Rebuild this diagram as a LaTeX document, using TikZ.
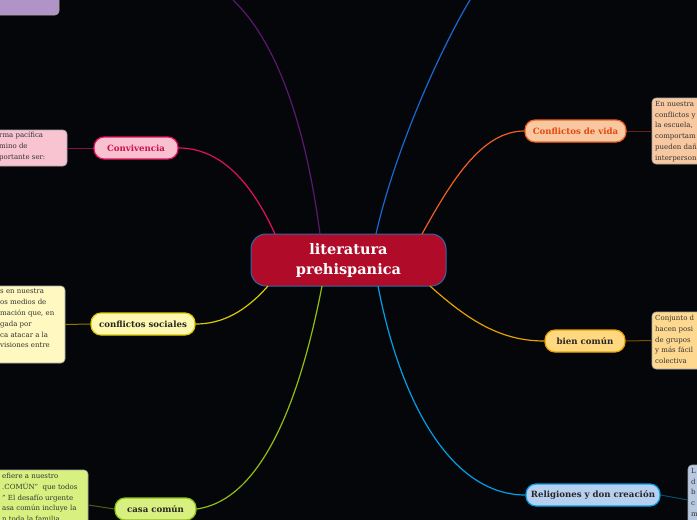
\documentclass[tikz,border=0pt]{standalone}
\usepackage{fontspec}
\setmainfont{DejaVu Serif}
\definecolor{cbg}{RGB}{5,6,10}
\definecolor{cpurple}{RGB}{90,24,110}
\definecolor{cblue}{RGB}{24,104,210}
\definecolor{cpink}{RGB}{228,16,92}
\definecolor{cyellow}{RGB}{220,200,0}
\definecolor{clime}{RGB}{144,192,16}
\definecolor{corange}{RGB}{240,96,32}
\definecolor{cgold}{RGB}{232,160,0}
\definecolor{ccyan}{RGB}{0,160,232}
\definecolor{ccentborder}{RGB}{42,106,168}
\definecolor{ccentfill}{RGB}{176,12,42}
\definecolor{fpurple}{RGB}{176,148,200}
\definecolor{fpink}{RGB}{249,192,208}
\definecolor{fpinknote}{RGB}{248,196,210}
\definecolor{tpink}{RGB}{208,16,80}
\definecolor{lpink}{RGB}{138,16,64}
\definecolor{fyellow}{RGB}{255,248,176}
\definecolor{fyellownote}{RGB}{255,248,192}
\definecolor{lyellow}{RGB}{138,122,0}
\definecolor{flime}{RGB}{216,240,128}
\definecolor{llime}{RGB}{80,96,16}
\definecolor{forange}{RGB}{248,200,160}
\definecolor{torange}{RGB}{232,72,16}
\definecolor{lorange}{RGB}{112,32,16}
\definecolor{fgold}{RGB}{255,216,128}
\definecolor{fgoldnote}{RGB}{255,216,144}
\definecolor{lgold}{RGB}{120,80,0}
\definecolor{fcyan}{RGB}{184,208,240}
\definecolor{fcyannote}{RGB}{184,200,224}
\definecolor{lcyan}{RGB}{0,80,110}
\begin{document}
\begin{tikzpicture}[x=1pt,y=-1pt,
  topic/.style={draw, line width=1.2pt, rounded corners=10pt, minimum height=22pt, inner sep=0pt, font=\bfseries\fontsize{8.6}{10}\selectfont},
  note/.style={draw=gray!70, line width=0.6pt, rounded corners=4pt},
  notetext/.style={anchor=north west, inner sep=0pt, align=left, font=\fontsize{7}{10.8}\selectfont, text=black!80},
  branch/.style={line width=1.2pt},
  leaf/.style={line width=1pt}]
\useasboundingbox (0,0) rectangle (697,520);
\fill[cbg] (0,0) rectangle (697,520);
\clip (0,0) rectangle (697,520);

% central node
\node[draw=ccentborder, line width=1pt, fill=ccentfill,
  rounded corners=15pt, minimum width=195pt, minimum height=52pt, text=white, align=center,
  font=\bfseries\fontsize{14.5}{20}\selectfont] (c) at (348.5,260) {literatura\\prehispanica};

% anchor points on central node
\coordinate (cpu) at (320,234);
\coordinate (cbl) at (376,234);
\coordinate (cpk) at (275,234);
\coordinate (cor) at (422,234);
\coordinate (cye) at (268,286);
\coordinate (cli) at (322,286);
\coordinate (cgo) at (430,286);
\coordinate (ccy) at (378,286);
\coordinate (ptop) at (233,0);
\coordinate (btop) at (470,0);

% purple box top-left
\node[note, fill=fpurple, minimum width=100pt, minimum height=40pt] (purplebox) at (9,-5) {};

% top branches
\draw[branch, cpurple] (cpu) .. controls (305,120) and (275,40) .. (ptop);
\draw[branch, cblue] (cbl) .. controls (395,150) and (440,50) .. (btop);

% Convivencia
\node[topic, fill=fpink, draw=cpink, text=tpink, minimum width=84pt] (conv) at (136,148) {Convivencia};
\node[note, fill=fpinknote, minimum width=100pt, minimum height=36pt] (convnote) at (17,148) {};
\node[notetext] (convtext) at (-1,132) {rma pacífica\\mino de\\portante ser:};
\draw[branch, cpink] (cpk) .. controls (255,190) and (225,148) .. (conv.east);
\draw[leaf, lpink] (conv.west) -- (convnote.east);

% conflictos sociales
\node[topic, fill=fyellow, draw=cyellow, text=black!85, minimum width=104pt] (csoc) at (143,324) {conflictos sociales};
\node[note, fill=fyellownote, minimum width=100pt, minimum height=77pt] (csocnote) at (15,324.5) {};
\node[notetext] (csoctext) at (0,289) {s en nuestra\\os medios de\\mación que, en\\gada por\\ca atacar a la\\visiones entre};
\draw[branch, cyellow] (cye) .. controls (245,312) and (222,324) .. (csoc.east);
\draw[leaf, lyellow] (csoc.west) -- (csocnote.east);

% casa comun
\node[topic, fill=flime, draw=clime, text=black!85, minimum width=81pt] (casa) at (155.5,509) {casa común};
\node[note, fill=flime, minimum width=120pt, minimum height=70pt] (casanote) at (28,505) {};
\node[notetext] (casatext) at (2,473) {efiere a nuestro\\.COMÚN"\ \ que todos\\" El desafío urgente\\asa común incluye la\\n toda la familia};
\draw[branch, clime] (cli) .. controls (300,400) and (262,500) .. (casa.east);
\draw[leaf, llime] (casa.west) -- (casanote.east);

% Conflictos de vida
\node[topic, fill=forange, draw=corange, text=torange, minimum width=101pt] (cvida) at (575.5,131) {Conflictos de vida};
\node[note, fill=forange, minimum width=100pt, minimum height=66pt] (cvidanote) at (702,131) {};
\node[notetext] (cvidatext) at (655,101) {En nuestra\\conflictos y\\la escuela,\\comportam\\pueden dañ\\interperson};
\draw[branch, corange] (cor) .. controls (452,180) and (482,131) .. (cvida.west);
\draw[leaf, lorange] (cvida.east) -- (cvidanote.west);

% bien comun
\node[topic, fill=fgold, draw=cgold, text=black!85, minimum width=80pt] (bien) at (585,341) {bien común};
\node[note, fill=fgoldnote, minimum width=100pt, minimum height=57pt] (biennote) at (702,340.5) {};
\node[notetext] (bientext) at (655,315) {Conjunto d\\hacen posi\\de grupos\\y más fácil\\colectiva};
\draw[branch, cgold] (cgo) .. controls (470,322) and (502,341) .. (bien.west);
\draw[leaf, lgold] (bien.east) -- (biennote.west);

% Religiones y don creacion
\node[topic, fill=fcyan, draw=ccyan, text=black!85, minimum width=134pt] (relig) at (593,495) {Religiones y don creación};
\node[note, fill=fcyannote, minimum width=100pt, minimum height=70pt] (relignote) at (738,500) {};
\node[notetext] (religtext) at (691,468) {L\\d\\b\\c\\m};
\draw[branch, ccyan] (ccy) .. controls (400,400) and (450,495) .. (relig.west);
\draw[leaf, lcyan] (relig.east) -- (relignote.west);
\end{tikzpicture}
\end{document}
